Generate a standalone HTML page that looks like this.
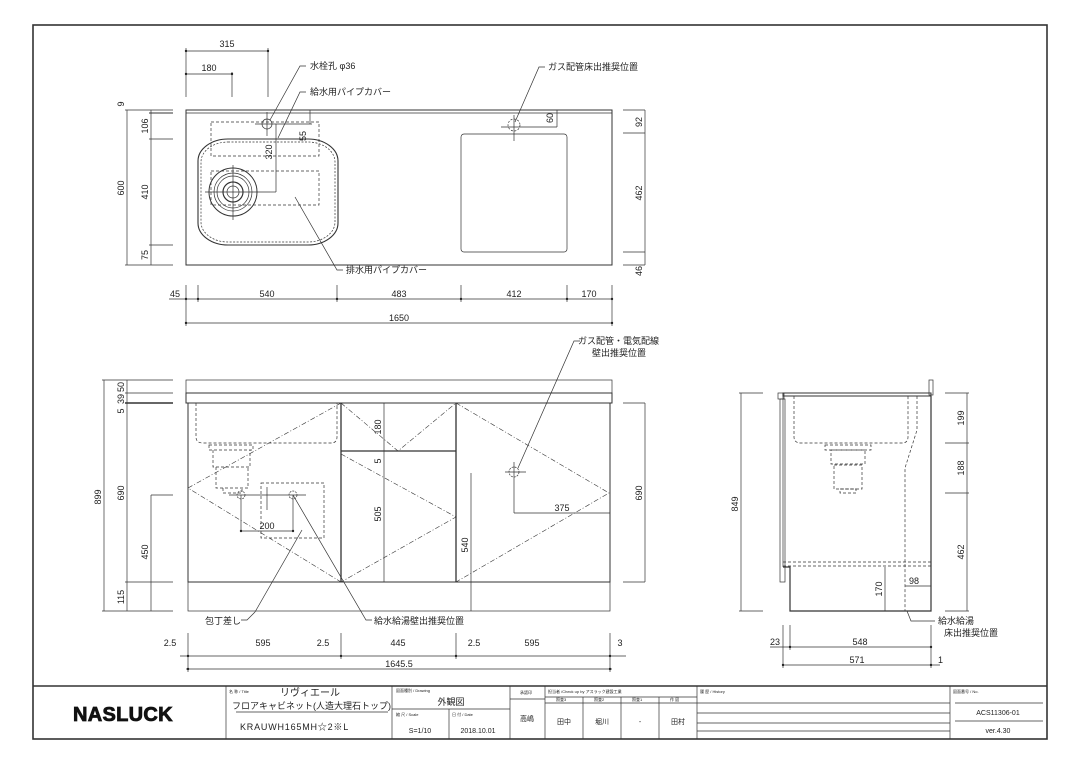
<!DOCTYPE html>
<html><head><meta charset="utf-8"><style>
html,body{margin:0;padding:0;background:#fff}
svg{display:block}
text{font-family:"Liberation Sans","Noto Sans CJK JP",sans-serif;fill:#222}
</style></head><body>
<svg width="1080" height="764" viewBox="0 0 1080 764" xmlns="http://www.w3.org/2000/svg">
<g fill="none" stroke="#333" stroke-width="0.7">
<rect x="33" y="25" width="1014" height="714" stroke-width="1.6"/>
<line x1="33" y1="686" x2="1047" y2="686" stroke-width="1.4"/>

<rect x="186" y="110" width="426" height="155" stroke-width="1"/>
<line x1="186" y1="113" x2="612" y2="113"/>
<rect x="198" y="139" width="140" height="106" rx="30" ry="22" stroke-width="1.1"/>
<rect x="201" y="142" width="134" height="100" rx="27" ry="20" stroke-dasharray="2 1.5"/>
<circle cx="233" cy="192" r="24" stroke-width="1"/>
<circle cx="233" cy="192" r="19"/>
<circle cx="233" cy="192" r="16"/>
<circle cx="233" cy="192" r="10" stroke-width="1.2"/>
<circle cx="233" cy="192" r="6"/>
<line x1="205" y1="192" x2="270" y2="192"/>
<line x1="233" y1="165" x2="233" y2="220"/>
<circle cx="267" cy="124" r="5"/>
<line x1="255" y1="124" x2="312" y2="124"/>
<line x1="267" y1="112" x2="267" y2="136"/>
<rect x="211" y="122" width="108" height="34" stroke-dasharray="3 2"/>
<rect x="211" y="171" width="108" height="34" stroke-dasharray="3 2"/>
<line x1="276" y1="124" x2="276" y2="192"/>
<line x1="270" y1="192" x2="276" y2="192"/>
<line x1="310" y1="110" x2="310" y2="124"/>
<rect x="461" y="134" width="106" height="118" rx="3"/>
<circle cx="514" cy="125" r="6" stroke-dasharray="2 1.5"/>
<line x1="501" y1="127" x2="557" y2="127"/>
<line x1="514" y1="115" x2="514" y2="141"/>
<line x1="557" y1="110" x2="557" y2="127"/>
<line x1="186" y1="51" x2="268" y2="51"/>
<line x1="186" y1="74" x2="232" y2="74"/>
<line x1="186" y1="48" x2="186" y2="97"/>
<line x1="268" y1="48" x2="268" y2="97"/>
<line x1="232" y1="72" x2="232" y2="97"/>
<line x1="127" y1="110" x2="127" y2="265"/>
<line x1="151" y1="110" x2="151" y2="265"/>
<line x1="125" y1="110" x2="173" y2="110"/>
<line x1="149" y1="113" x2="173" y2="113" stroke-width="1"/>
<line x1="149" y1="139" x2="173" y2="139"/>
<line x1="149" y1="245" x2="173" y2="245"/>
<line x1="125" y1="265" x2="173" y2="265"/>
<line x1="645" y1="110" x2="645" y2="265"/>
<line x1="623" y1="110" x2="645" y2="110"/>
<line x1="623" y1="133" x2="645" y2="133"/>
<line x1="623" y1="252" x2="645" y2="252"/>
<line x1="623" y1="265" x2="645" y2="265"/>
<line x1="169" y1="299" x2="612" y2="299"/>
<line x1="186" y1="323" x2="612" y2="323"/>
<line x1="186" y1="285" x2="186" y2="326"/>
<line x1="198" y1="285" x2="198" y2="302"/>
<line x1="337" y1="285" x2="337" y2="302"/>
<line x1="461" y1="285" x2="461" y2="302"/>
<line x1="567" y1="285" x2="567" y2="302"/>
<line x1="612" y1="285" x2="612" y2="326"/>
<polyline points="306,66 300,66 270,120"/>
<polyline points="306,92 300,92 278,138"/>
<polyline points="545,67 539,67 515,122"/>
<polyline points="295,197 337,270 343,270"/>

<rect x="186" y="380" width="426" height="13"/>
<rect x="186" y="393" width="426" height="10" stroke-width="1"/>
<rect x="188" y="403" width="422" height="179" stroke-width="1"/>
<rect x="188" y="582" width="422" height="29"/>
<line x1="341" y1="403" x2="341" y2="582" stroke-width="1.3"/>
<line x1="456" y1="403" x2="456" y2="582" stroke-width="1.3"/>
<line x1="341" y1="451" x2="456" y2="451" stroke-width="1.3"/>
<g stroke-dasharray="5 2 1 2" stroke-width="0.6">
<polyline points="341,403 188,488 341,582"/>
<polyline points="341,403 398,451 456,403"/>
<polyline points="341,454 456,517 341,582"/>
<polyline points="456,403 609,493 456,582"/>
</g>
<g stroke-dasharray="3 2">
<path d="M196,403 V437 Q196,443 203,443 H331 Q337,443 337,437 V403"/>
<rect x="209" y="445" width="44" height="5"/>
<path d="M213,450 V467 H250 V450"/>
<path d="M216,467 V488 H248 V467"/>
<path d="M223,488 V493 H242 V488"/>
<rect x="261" y="483" width="63" height="55"/>
</g>
<circle cx="241" cy="495" r="4" stroke-dasharray="2 1"/>
<circle cx="293" cy="495" r="4" stroke-dasharray="2 1"/>
<line x1="229" y1="495" x2="306" y2="495"/>
<line x1="241" y1="495" x2="241" y2="531"/>
<line x1="293" y1="495" x2="293" y2="531"/>
<line x1="241" y1="531" x2="293" y2="531"/>
<line x1="267" y1="487" x2="267" y2="510"/>
<line x1="384" y1="403" x2="384" y2="582"/>
<circle cx="514" cy="472" r="5" stroke-dasharray="2 1"/>
<line x1="505" y1="472" x2="526" y2="472"/>
<line x1="514" y1="462" x2="514" y2="513"/>
<line x1="471" y1="473" x2="471" y2="611"/>
<line x1="514" y1="513" x2="610" y2="513"/>
<polyline points="580,341 574,341 518,468"/>
<polyline points="255,612 247,620 241,620"/>
<line x1="255" y1="612" x2="302" y2="530"/>
<polyline points="293,495 366,620 372,620"/>
<line x1="104" y1="380" x2="104" y2="611"/>
<line x1="127" y1="380" x2="127" y2="611"/>
<line x1="151" y1="495" x2="151" y2="611"/>
<line x1="102" y1="380" x2="173" y2="380"/>
<line x1="125" y1="393" x2="173" y2="393"/>
<line x1="125" y1="403" x2="173" y2="403" stroke-width="1.6"/>
<line x1="151" y1="495" x2="173" y2="495"/>
<line x1="125" y1="582" x2="173" y2="582"/>
<line x1="102" y1="611" x2="173" y2="611"/>
<line x1="645" y1="403" x2="645" y2="582"/>
<line x1="623" y1="403" x2="645" y2="403"/>
<line x1="623" y1="582" x2="645" y2="582"/>
<line x1="180" y1="656" x2="626" y2="656"/>
<line x1="186" y1="669" x2="612" y2="669"/>
<line x1="188" y1="633" x2="188" y2="672"/>
<line x1="341" y1="633" x2="341" y2="659"/>
<line x1="456" y1="633" x2="456" y2="659"/>
<line x1="610" y1="633" x2="610" y2="672"/>

<rect x="783" y="393" width="148" height="3" stroke-width="1"/>
<rect x="929" y="380" width="4" height="15"/>
<rect x="778" y="393" width="6" height="6"/>
<rect x="780" y="399" width="5" height="183"/>
<line x1="783" y1="396" x2="783" y2="567"/>
<polyline points="783,567 790,567 790,611 931,611 931,396" stroke-width="1.2"/>
<g stroke-dasharray="3 2">
<path d="M794,396 V437 Q794,443 801,443 H902 Q908,443 908,437 V396"/>
<rect x="825" y="445" width="46" height="5"/>
<rect x="831" y="450" width="34" height="14"/>
<rect x="834" y="465" width="28" height="24"/>
<rect x="840" y="489" width="16" height="4"/>
<path d="M917,396 V430 L905,468 V611"/>
<line x1="783" y1="562" x2="931" y2="562"/>
<line x1="783" y1="566" x2="931" y2="566"/>
</g>
<line x1="885" y1="567" x2="885" y2="611"/>
<line x1="905" y1="586" x2="931" y2="586"/>
<polyline points="907,611 911,621 935,621"/>
<line x1="741" y1="393" x2="741" y2="611"/>
<line x1="739" y1="393" x2="763" y2="393"/>
<line x1="739" y1="611" x2="763" y2="611"/>
<line x1="967" y1="393" x2="967" y2="611"/>
<line x1="945" y1="393" x2="969" y2="393"/>
<line x1="945" y1="443" x2="969" y2="443"/>
<line x1="945" y1="493" x2="969" y2="493"/>
<line x1="945" y1="611" x2="969" y2="611"/>
<line x1="770" y1="647" x2="931" y2="647"/>
<line x1="783" y1="665" x2="940" y2="665"/>
<line x1="783" y1="625" x2="783" y2="668"/>
<line x1="790" y1="625" x2="790" y2="650"/>
<line x1="931" y1="625" x2="931" y2="668"/>

<line x1="226" y1="686" x2="226" y2="739"/>
<line x1="392" y1="686" x2="392" y2="739"/>
<line x1="510" y1="686" x2="510" y2="739"/>
<line x1="545" y1="686" x2="545" y2="739"/>
<line x1="697" y1="686" x2="697" y2="739"/>
<line x1="950" y1="686" x2="950" y2="739"/>
<line x1="236" y1="712" x2="388" y2="712"/>
<line x1="392" y1="709" x2="510" y2="709"/>
<line x1="449" y1="709" x2="449" y2="739"/>
<line x1="510" y1="699" x2="545" y2="699"/>
<line x1="545" y1="697" x2="697" y2="697"/>
<line x1="545" y1="703" x2="697" y2="703"/>
<line x1="583" y1="697" x2="583" y2="739"/>
<line x1="621" y1="697" x2="621" y2="739"/>
<line x1="659" y1="697" x2="659" y2="739"/>
<line x1="697" y1="703" x2="950" y2="703"/>
<line x1="697" y1="713" x2="950" y2="713"/>
<line x1="697" y1="723" x2="950" y2="723"/>
<line x1="697" y1="731" x2="950" y2="731"/>
<line x1="955" y1="703" x2="1043" y2="703"/>
<line x1="955" y1="721" x2="1043" y2="721"/>
</g>

<g fill="#222">
<circle cx="186" cy="51" r="1.2"/><circle cx="268" cy="51" r="1.2"/><circle cx="186" cy="74" r="1.2"/><circle cx="232" cy="74" r="1.2"/>
<circle cx="186" cy="299" r="1.2"/><circle cx="198" cy="299" r="1.2"/><circle cx="337" cy="299" r="1.2"/><circle cx="461" cy="299" r="1.2"/><circle cx="567" cy="299" r="1.2"/><circle cx="612" cy="299" r="1.2"/>
<circle cx="186" cy="323" r="1.2"/><circle cx="612" cy="323" r="1.2"/>
<circle cx="188" cy="656" r="1.2"/><circle cx="341" cy="656" r="1.2"/><circle cx="456" cy="656" r="1.2"/><circle cx="610" cy="656" r="1.2"/>
<circle cx="188" cy="669" r="1.2"/><circle cx="610" cy="669" r="1.2"/>
<circle cx="790" cy="647" r="1.2"/><circle cx="931" cy="647" r="1.2"/><circle cx="783" cy="665" r="1.2"/><circle cx="931" cy="665" r="1.2"/>
<circle cx="241" cy="531" r="1.2"/><circle cx="293" cy="531" r="1.2"/>
</g>

<g font-size="9">
<text x="227" y="47" text-anchor="middle">315</text>
<text x="209" y="71" text-anchor="middle">180</text>
<text x="310" y="69">水栓孔 φ36</text>
<text x="310" y="95">給水用パイプカバー</text>
<text x="548" y="70">ガス配管床出推奨位置</text>
<text x="346" y="273">排水用パイプカバー</text>
<text x="175" y="297" text-anchor="middle">45</text>
<text x="267" y="297" text-anchor="middle">540</text>
<text x="399" y="297" text-anchor="middle">483</text>
<text x="514" y="297" text-anchor="middle">412</text>
<text x="589" y="297" text-anchor="middle">170</text>
<text x="399" y="321" text-anchor="middle">1650</text>
<text x="578" y="344">ガス配管・電気配線</text>
<text x="592" y="356">壁出推奨位置</text>
<text x="205" y="624">包丁差し</text>
<text x="374" y="624">給水給湯壁出推奨位置</text>
<text x="267" y="529" text-anchor="middle">200</text>
<text x="562" y="511" text-anchor="middle">375</text>
<text x="170" y="646" text-anchor="middle">2.5</text>
<text x="263" y="646" text-anchor="middle">595</text>
<text x="323" y="646" text-anchor="middle">2.5</text>
<text x="398" y="646" text-anchor="middle">445</text>
<text x="474" y="646" text-anchor="middle">2.5</text>
<text x="532" y="646" text-anchor="middle">595</text>
<text x="620" y="646" text-anchor="middle">3</text>
<text x="399" y="667" text-anchor="middle">1645.5</text>
<text x="775" y="645" text-anchor="middle">23</text>
<text x="860" y="645" text-anchor="middle">548</text>
<text x="857" y="663" text-anchor="middle">571</text>
<text x="938" y="663">1</text>
<text x="914" y="584" text-anchor="middle">98</text>
<text x="938" y="624">給水給湯</text>
<text x="944" y="636">床出推奨位置</text>
</g>
<g font-size="9" text-anchor="middle">
<text transform="translate(124,104) rotate(-90)">9</text>
<text transform="translate(148,126) rotate(-90)">106</text>
<text transform="translate(148,192) rotate(-90)">410</text>
<text transform="translate(148,255) rotate(-90)">75</text>
<text transform="translate(124,188) rotate(-90)">600</text>
<text transform="translate(272,152) rotate(-90)">320</text>
<text transform="translate(306,136) rotate(-90)">55</text>
<text transform="translate(553,118) rotate(-90)">60</text>
<text transform="translate(642,122) rotate(-90)">92</text>
<text transform="translate(642,193) rotate(-90)">462</text>
<text transform="translate(642,271) rotate(-90)">46</text>
<text transform="translate(124,387) rotate(-90)">50</text>
<text transform="translate(124,399) rotate(-90)">39</text>
<text transform="translate(124,411) rotate(-90)">5</text>
<text transform="translate(101,497) rotate(-90)">899</text>
<text transform="translate(124,493) rotate(-90)">690</text>
<text transform="translate(148,552) rotate(-90)">450</text>
<text transform="translate(124,597) rotate(-90)">115</text>
<text transform="translate(381,427) rotate(-90)">180</text>
<text transform="translate(381,461) rotate(-90)">5</text>
<text transform="translate(381,514) rotate(-90)">505</text>
<text transform="translate(468,545) rotate(-90)">540</text>
<text transform="translate(642,493) rotate(-90)">690</text>
<text transform="translate(738,504) rotate(-90)">849</text>
<text transform="translate(964,418) rotate(-90)">199</text>
<text transform="translate(964,468) rotate(-90)">188</text>
<text transform="translate(964,552) rotate(-90)">462</text>
<text transform="translate(882,589) rotate(-90)">170</text>
</g>

<text x="73" y="721" font-size="20" font-weight="bold" style="font-family:'Liberation Sans Narrow','Liberation Sans',sans-serif;fill:#111;stroke:#111;stroke-width:0.8;letter-spacing:0.3px">NASLUCK</text>
<g font-size="4">
<text x="229" y="693">名 称 / Title</text>
<text x="396" y="692">図面種別 / Drawing</text>
<text x="396" y="716">縮 尺 / Scale</text>
<text x="452" y="716">日 付 / Date</text>
<text x="520" y="694">承認印</text>
<text x="548" y="693">担当者 /Check up by アスラック建設工業</text>
<text x="556" y="701">照査3</text><text x="594" y="701">照査2</text><text x="632" y="701">照査1</text><text x="670" y="701">作 図</text>
<text x="700" y="693">履 歴 / History</text>
<text x="953" y="693">図面番号 / No.</text>
</g>
<text x="280" y="696" font-size="10">リヴィエール</text>
<text x="232" y="709" font-size="9">フロアキャビネット(人造大理石トップ)</text>
<text x="240" y="730" font-size="9" letter-spacing="0.8">KRAUWH165MH☆2※L</text>
<text x="451" y="705" font-size="9" text-anchor="middle">外観図</text>
<text x="420" y="733" font-size="7" text-anchor="middle">S=1/10</text>
<text x="478" y="733" font-size="7" text-anchor="middle">2018.10.01</text>
<text x="527" y="721" font-size="7" text-anchor="middle">高嶋</text>
<text x="564" y="724" font-size="7" text-anchor="middle">田中</text>
<text x="602" y="724" font-size="7" text-anchor="middle">堀川</text>
<text x="640" y="724" font-size="7" text-anchor="middle">-</text>
<text x="678" y="724" font-size="7" text-anchor="middle">田村</text>
<text x="998" y="715" font-size="7" text-anchor="middle">ACS11306-01</text>
<text x="998" y="733" font-size="7" text-anchor="middle">ver.4.30</text>
</svg>
</body></html>
